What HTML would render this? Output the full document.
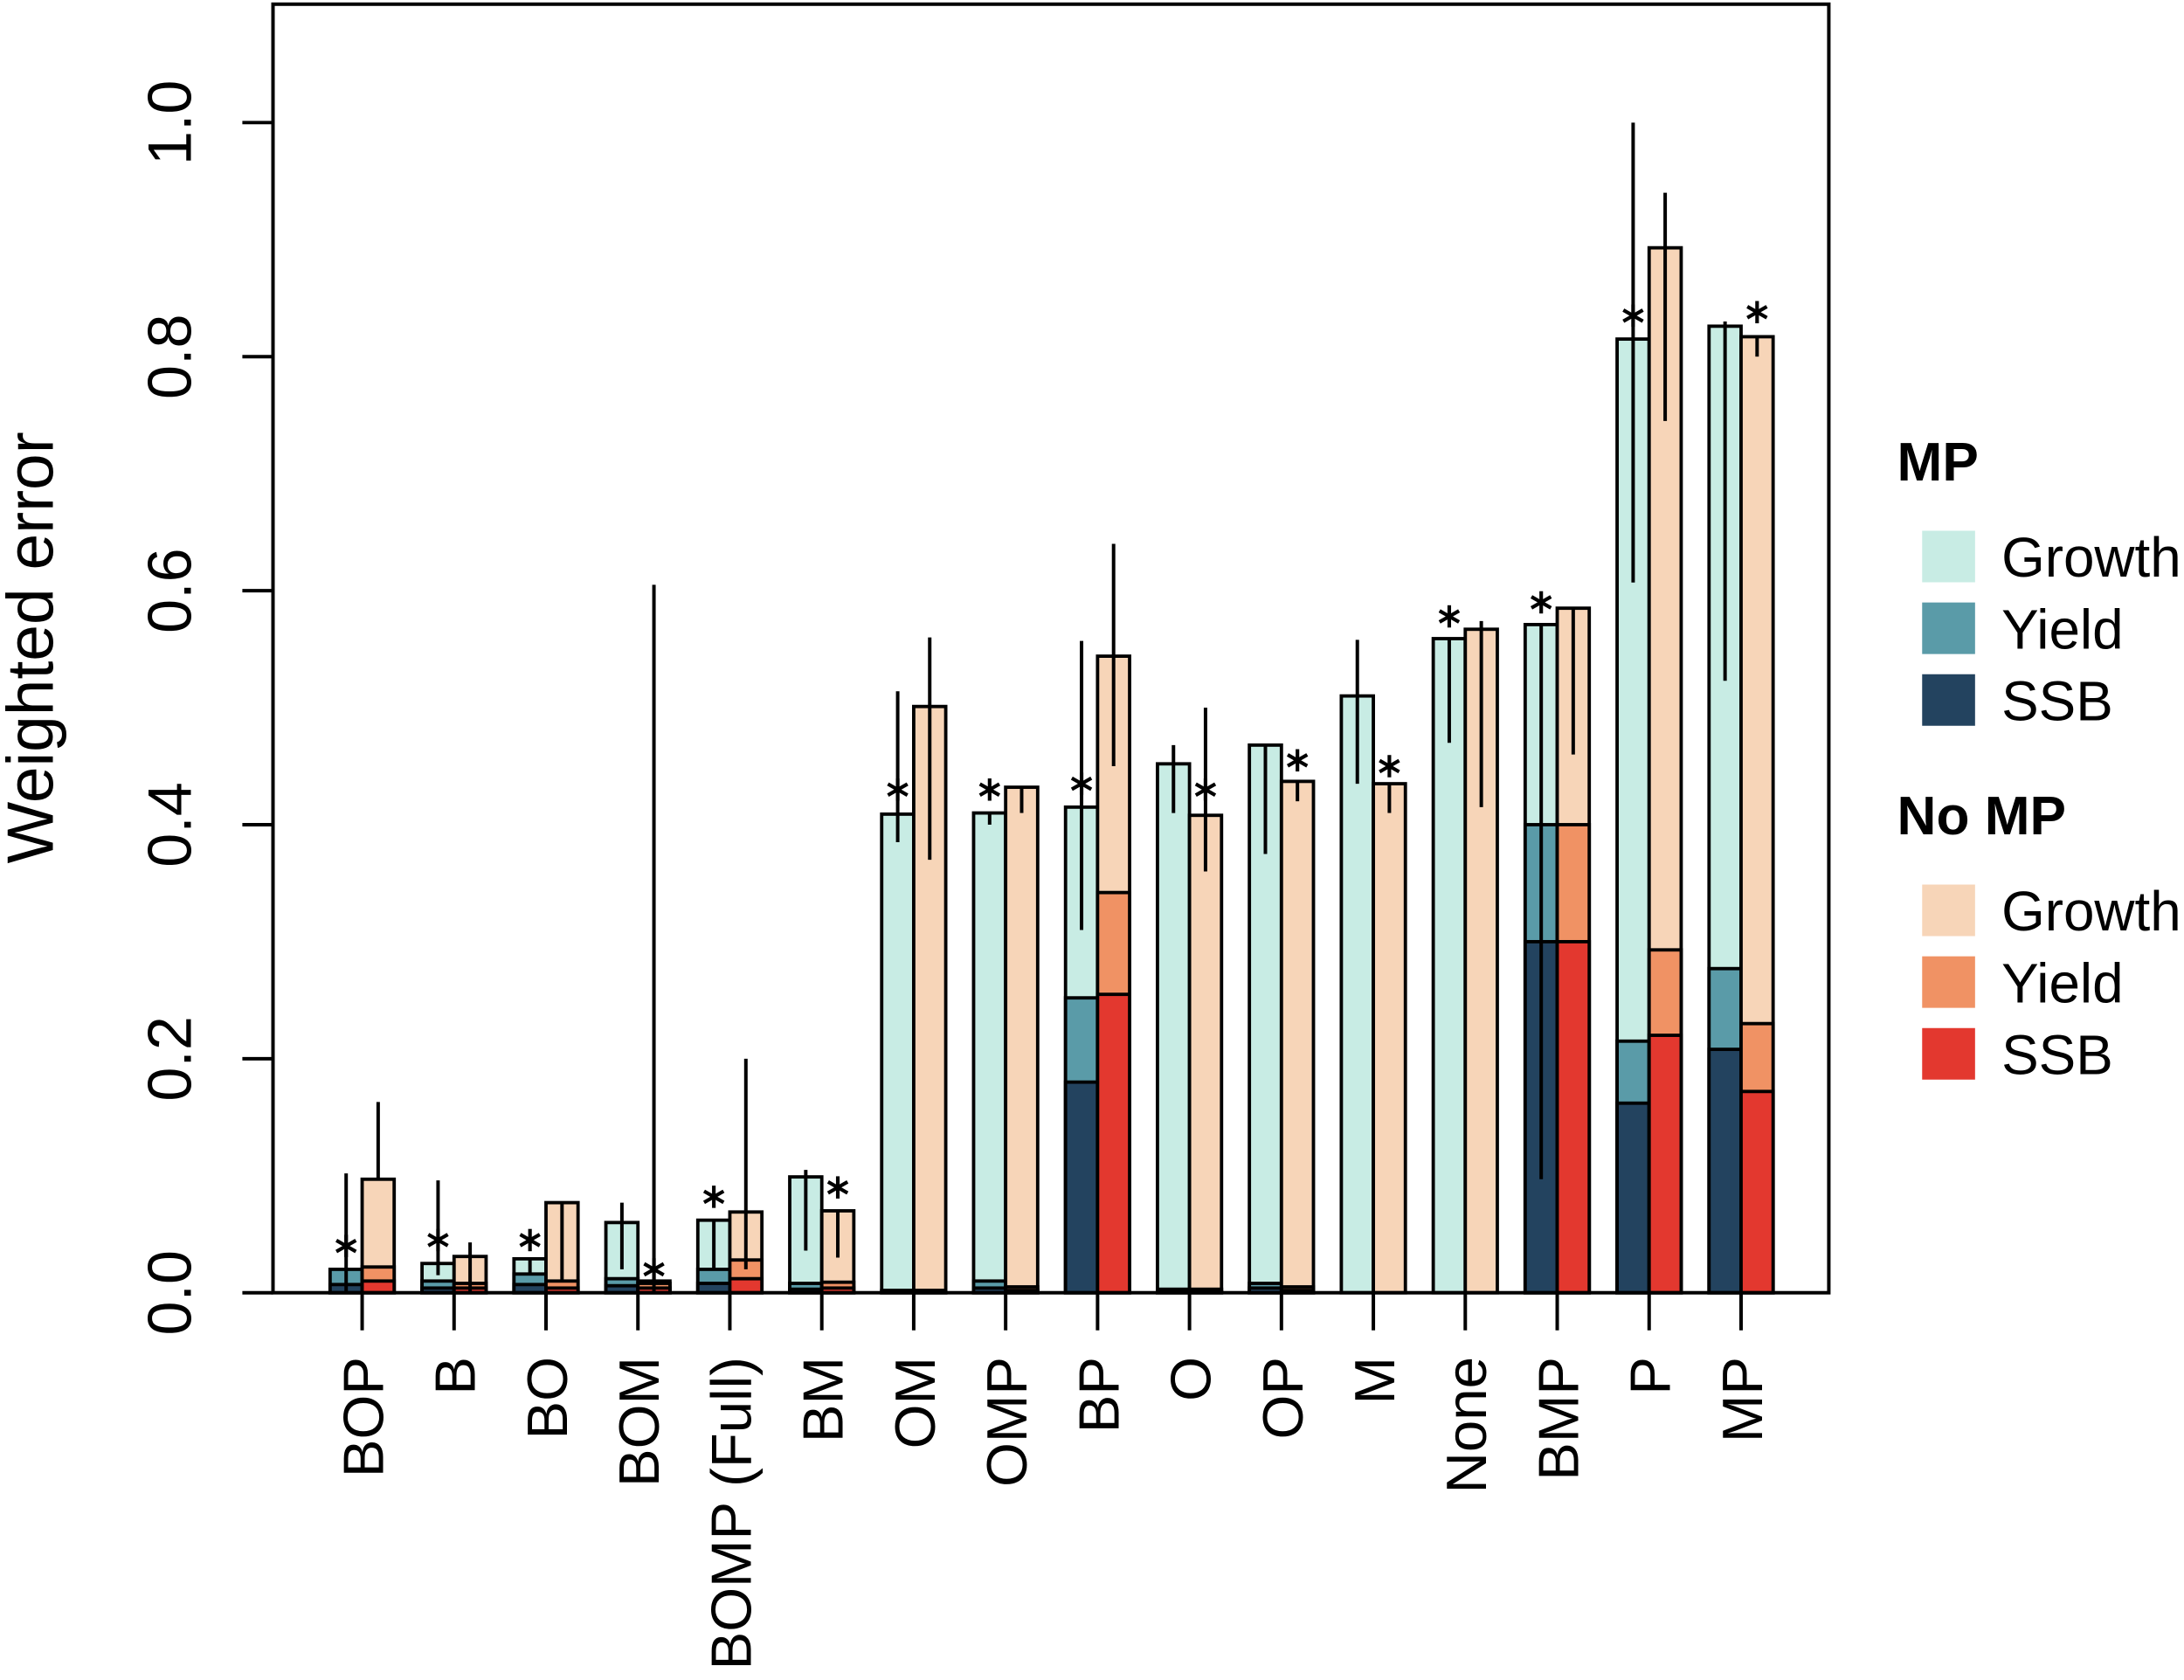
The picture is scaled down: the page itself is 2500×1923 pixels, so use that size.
<!DOCTYPE html>
<html><head><meta charset="utf-8"><style>
html,body{margin:0;padding:0;background:#fff;}
svg{display:block;}
text{font-family:"Liberation Sans",Arial,sans-serif;}
</style></head><body>
<svg id="s" width="2500" height="1923" viewBox="0 0 1568 1206" preserveAspectRatio="none" xmlns="http://www.w3.org/2000/svg"></svg>
<script>
var s=document.getElementById('s');
var h='';
function Y(v){return 928-v*840;}
var C={mg:'#c8ece4',my:'#5a9ba8',ms:'#23435f',ng:'#f7d5b8',ny:'#f09264',ns:'#e3382f'};
var D=[
['BOP',[.007,.02,.02,.0,.102,.04],[.01,.022,.097,.097,.163,0]],
['B',[.004,.01,.025,.015,.096,.045],[.004,.008,.031,.0,.043,0]],
['BO',[.007,.016,.029,.015,.029,.045],[.004,.01,.077,.01,.077,0]],
['BOM',[.006,.012,.06,.02,.077,0],[.004,.008,.01,.0,.605,.02]],
['BOMP (Full)',[.008,.02,.062,.02,.062,.082],[.012,.028,.069,.02,.2,0]],
['BM',[.003,.008,.099,.036,.105,0],[.004,.009,.07,.03,.07,.09]],
['OM',[.001,.002,.409,.385,.514,.43],[.001,.002,.501,.37,.56,0]],
['OMP',[.004,.01,.41,.4,.41,.43],[.002,.005,.432,.41,.432,0]],
['BP',[.18,.252,.415,.31,.557,.435],[.255,.342,.544,.45,.64,0]],
['O',[.001,.003,.452,.41,.468,0],[.001,.003,.408,.36,.5,.43]],
['OP',[.004,.008,.468,.375,.468,0],[.002,.005,.437,.42,.437,.455]],
['M',[0,0,.51,.435,.558,0],[0,0,.435,.41,.435,.45]],
['None',[0,0,.559,.47,.559,.578],[0,0,.567,.415,.574,0]],
['BMP',[.3,.4,.571,.097,.571,.59],[.3,.4,.585,.46,.585,0]],
['P',[.162,.215,.815,.607,1.0,.835],[.22,.293,.893,.745,.94,0]],
['MP',[.208,.277,.826,.523,.83,0],[.172,.23,.817,.8,.817,.838]]
];
function rect(x,y0,y1,f){h+='<rect x="'+x+'" y="'+Y(y1)+'" width="23" height="'+(Y(y0)-Y(y1))+'" fill="'+f+'" stroke="#000" stroke-width="2.4"/>';}
function star(x,v){var y=Y(v),r=8;h+='<g stroke="#000" stroke-width="2.6"><line x1="'+x+'" y1="'+(y-r)+'" x2="'+x+'" y2="'+(y+r)+'"/><line x1="'+(x-7)+'" y1="'+(y-4)+'" x2="'+(x+7)+'" y2="'+(y+4)+'"/><line x1="'+(x-7)+'" y1="'+(y+4)+'" x2="'+(x+7)+'" y2="'+(y-4)+'"/></g>';}
function bar(x,d,p){
 var g=C[p+'g'],yy=C[p+'y'],ss=C[p+'s'];
 rect(x,0,Math.max(d[2],d[1]),g);
 if(d[1]>0)rect(x,0,d[1],yy);
 if(d[0]>0)rect(x,0,d[0],ss);
 var cx=x+11.5;
 h+='<line x1="'+cx+'" y1="'+Y(d[3])+'" x2="'+cx+'" y2="'+Y(d[4])+'" stroke="#000" stroke-width="2.5"/>';
 if(d[5])star(cx,d[5]);
}
for(var i=0;i<D.length;i++){
 var c=260+66*i;
 bar(c-23,D[i][1],'m');bar(c,D[i][2],'n');
 h+='<line x1="'+c+'" y1="928" x2="'+c+'" y2="955" stroke="#000" stroke-width="2.5"/>';
 h+='<text transform="translate('+(c+15)+',974) rotate(-90)" text-anchor="end" font-size="41">'+D[i][0]+'</text>';
}
h+='<rect x="196" y="3" width="1117" height="925" fill="none" stroke="#000" stroke-width="2.5"/>';
for(var k=0;k<=5;k++){var v=k*0.2,y=Y(v);
 h+='<line x1="174" y1="'+y+'" x2="196" y2="'+y+'" stroke="#000" stroke-width="2.5"/>';
 h+='<text transform="translate(137,'+y+') rotate(-90)" text-anchor="middle" font-size="44">'+v.toFixed(1)+'</text>';}
h+='<text transform="translate(38,465) rotate(-90)" text-anchor="middle" font-size="47">Weighted error</text>';
function leg(t,y,cols,labs){
 h+='<text x="1362" y="'+y+'" font-size="39" font-weight="bold">'+t+'</text>';
 for(var j=0;j<3;j++){var yy=y+36+j*51.5;
  h+='<rect x="1380" y="'+yy+'" width="38" height="37" fill="'+cols[j]+'"/>';
  h+='<text x="1437" y="'+(yy+33)+'" font-size="40">'+labs[j]+'</text>';}
}
leg('MP',345,[C.mg,C.my,C.ms],['Growth','Yield','SSB']);
leg('No MP',599,[C.ng,C.ny,C.ns],['Growth','Yield','SSB']);
s.innerHTML=h;
</script>
</body></html>
